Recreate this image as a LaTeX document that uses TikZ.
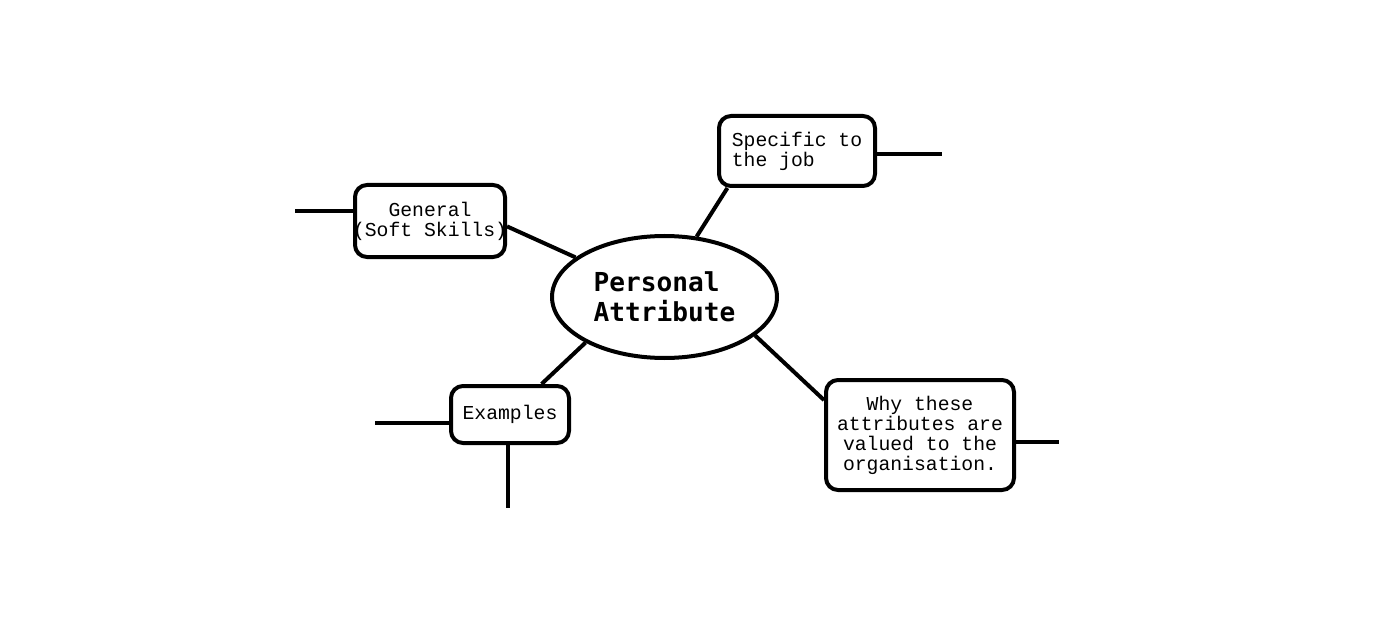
\documentclass[tikz,border=0pt]{standalone}
\usepackage{fontspec}
\setmonofont{Liberation Mono}
\newfontfamily\headfont{DejaVu Sans Mono}
\usetikzlibrary{shapes.geometric}

\begin{document}
\begin{tikzpicture}[x=0.75pt,y=-0.75pt,line width=3pt]
\tikzstyle{topic}=[draw,rounded corners=9pt,inner sep=0pt,align=center,font=\ttfamily\fontsize{14.8}{15}\selectfont];
\tikzstyle{hub}=[draw,ellipse,inner sep=0pt,align=left,font=\headfont\bfseries\fontsize{19.6}{22.5}\selectfont];
\useasboundingbox (0,0) rectangle (1382,624);

% middle and the four topics
\node[hub,minimum width=168.75pt,minimum height=91.5pt] (attr) at (664.5,297) {Personal\\Attribute};
\node[topic,minimum width=112.5pt,minimum height=54pt] (gen) at (430,221) {General\\\makebox[0pt]{(Soft Skills)}};
\node[topic,align=left,minimum width=117pt,minimum height=52.5pt] (spec) at (797,151) {Specific to\\the job};
\node[topic,minimum width=88.5pt,minimum height=42.75pt] (ex) at (510,414.5) {Examples};
\node[topic,minimum width=141pt,minimum height=82.5pt] (why) at (920,435) {Why these\\attributes are\\valued to the\\organisation.};

\draw (gen.-4) -- (attr.156);
\draw (spec.-152) -- (attr.62);
\draw (ex.44) -- (attr.210);
\draw (why.160) -- (attr.-23);

% loose branches
\coordinate (genend) at (295,211);
\coordinate (specend) at (942,154);
\coordinate (exleft) at (375,423);
\coordinate (exdown) at (508,508);
\coordinate (whyend) at (1059,442);
\draw (genend) -- (genend -| gen.west);
\draw (specend -| spec.east) -- (specend);
\draw (exleft) -- (exleft -| ex.west);
\draw (exdown |- ex.south) -- (exdown);
\draw (whyend -| why.east) -- (whyend);
\end{tikzpicture}
\end{document}
